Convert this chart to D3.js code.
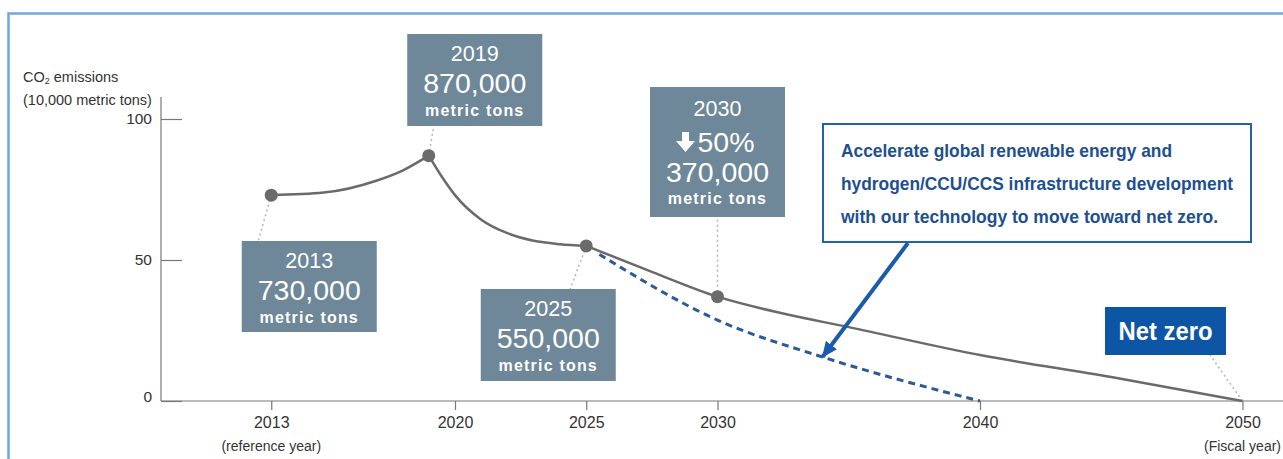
<!DOCTYPE html>
<html>
<head>
<meta charset="utf-8">
<script src="https://cdn.jsdelivr.net/npm/d3@7"></script>
<style>
    body { margin: 0; background: #fff; }
    svg { display: block; font-family: "Liberation Sans", Arial, sans-serif; }
</style>
</head>
<body>
<svg id="chart" width="1283" height="459"></svg>
<script>
// actual / planned emissions (10,000 metric tons)
var years = [2013, 2015, 2017, 2018, 2019, 2019.5, 2020, 2021, 2022, 2023, 2024, 2025, 2027.5, 2030, 2032.5, 2035, 2040, 2045, 2050];
var emissions = [73, 73.9, 78.1, 81.7, 87, 79.5, 73, 64.3, 59.5, 56.8, 55.6, 55, 45.8, 37, 31, 26.2, 16.3, 8.5, 0];
var breakYears = [2013, 2019, 2025, 2050];

// accelerated path (dashed)
var fastYears = [2025.5, 2030, 2034, 2040];
var fastEmissions = [52, 28.7, 15.6, 0];

var markedYears = [2013, 2019, 2025, 2030];
var xTicks = [2013, 2020, 2025, 2030, 2040, 2050];
var yTicks = [0, 50, 100];

var labels = [
    { year: 2013, lines: ["2013", "730,000", "metric tons"] },
    { year: 2019, lines: ["2019", "870,000", "metric tons"] },
    { year: 2025, lines: ["2025", "550,000", "metric tons"] },
    { year: 2030, lines: ["2030", "50%", "370,000", "metric tons"] },
];
var callout = [
    "Accelerate global renewable energy and",
    "hydrogen/CCU/CCS infrastructure development",
    "with our technology to move toward net zero.",
];

var svg = d3.select("#chart");
var x = d3.scaleLinear().domain([2013, 2050]).range([271.25, 1242.5]);
var y = d3.scaleLinear().domain([0, 100]).range([401, 119]);

var data = years.map(function (yr, i) { return { year: yr, value: emissions[i] }; });
var fast = fastYears.map(function (yr, i) { return { year: yr, value: fastEmissions[i] }; });
function valueAt(yr) {
    return data.filter(function (d) { return d.year === yr; })[0].value;
}

// frame
svg.append("rect")
    .attr("x", 8.5).attr("y", 13.5)
    .attr("width", 1400).attr("height", 600)
    .attr("fill", "none")
    .attr("stroke", "#70a7dd")
    .attr("stroke-width", 2.5);

// axes
var yAxis = d3.axisLeft(y).tickValues(yTicks).tickSizeInner(-21).tickSizeOuter(0).tickPadding(9);
var gy = svg.append("g").attr("transform", "translate(161,0)").call(yAxis);
gy.select(".domain").remove();
gy.selectAll(".tick line").attr("stroke", "#777").attr("stroke-width", 1.2);
gy.selectAll(".tick text").attr("font-size", 15.5).attr("fill", "#333").attr("font-family", null);
gy.selectAll(".tick").filter(function (d) { return d === 0; }).select("text").attr("dy", "0.05em");
svg.append("line")
    .attr("x1", 161).attr("x2", 161).attr("y1", 97).attr("y2", y(0))
    .attr("stroke", "#777").attr("stroke-width", 1.2);

var xAxis = d3.axisBottom(x).tickValues(xTicks).tickFormat(d3.format("d")).tickSizeInner(9).tickSizeOuter(0).tickPadding(7);
var gx = svg.append("g").attr("transform", "translate(0," + y(0) + ")").call(xAxis);
gx.select(".domain").remove();
gx.selectAll(".tick line").attr("stroke", "#777").attr("stroke-width", 1.2);
gx.selectAll(".tick text").attr("font-size", 16).attr("fill", "#333").attr("font-family", null);
svg.append("line")
    .attr("x1", 161).attr("x2", 1283).attr("y1", y(0)).attr("y2", y(0))
    .attr("stroke", "#777").attr("stroke-width", 1.2);

svg.append("text").attr("x", x(2013)).attr("y", 451)
    .attr("text-anchor", "middle").attr("font-size", 14).attr("fill", "#333")
    .text("(reference year)");
svg.append("text").attr("x", x(2050)).attr("y", 451)
    .attr("text-anchor", "middle").attr("font-size", 14).attr("fill", "#333")
    .text("(Fiscal year)");

// y axis title
var t1 = svg.append("text").attr("x", 23).attr("y", 82).attr("font-size", 14.5).attr("fill", "#333");
t1.append("tspan").text("CO");
t1.append("tspan").attr("font-size", 9).attr("dy", 2).text("2");
t1.append("tspan").attr("dy", -2).text(" emissions");
svg.append("text").attr("x", 23).attr("y", 105).attr("font-size", 14.5).attr("fill", "#333")
    .text("(10,000 metric tons)");

// leader lines (dotted)
var leaders = [
    { year: 2013, x2: x(2013) - 13, y2: 241 },
    { year: 2019, x2: x(2019) + 5, y2: 126 },
    { year: 2025, x2: x(2025) - 16, y2: 289 },
    { year: 2030, x2: x(2030), y2: 217 },
    { year: 2050, x2: 1210, y2: 355 },
];
svg.selectAll(".leader").data(leaders).enter().append("line")
    .attr("class", "leader")
    .attr("x1", function (d) { return x(d.year); })
    .attr("y1", function (d) { return y(valueAt(d.year)); })
    .attr("x2", function (d) { return d.x2; })
    .attr("y2", function (d) { return d.y2; })
    .attr("stroke", "#b5b5b5").attr("stroke-width", 1.5).attr("stroke-dasharray", "2,3");

// dashed accelerated path
var line = d3.line()
    .x(function (d) { return x(d.year); })
    .y(function (d) { return y(d.value); })
    .curve(d3.curveMonotoneX);

svg.append("path").datum(fast)
    .attr("d", line)
    .attr("fill", "none")
    .attr("stroke", "#2b5b97").attr("stroke-width", 3)
    .attr("stroke-dasharray", "7,5");

// main path, split where the trend turns
for (var i = 0; i < breakYears.length - 1; i++) {
    var a = breakYears[i], b = breakYears[i + 1];
    svg.append("path")
        .datum(data.filter(function (d) { return d.year >= a && d.year <= b; }))
        .attr("d", line)
        .attr("fill", "none")
        .attr("stroke", "#6a6a6a").attr("stroke-width", 2.5);
}

svg.selectAll(".dot").data(markedYears).enter().append("circle")
    .attr("class", "dot")
    .attr("cx", function (d) { return x(d); })
    .attr("cy", function (d) { return y(valueAt(d)); })
    .attr("r", 6.5)
    .attr("fill", "#6b6b6b");

// value boxes
var boxLayout = {
    2013: { dx: 38, top: 241, h: 91 },
    2019: { dx: 46, top: 34, h: 92 },
    2025: { dx: -38, top: 289, h: 92 },
    2030: { dx: 0, top: 87, h: 130 },
};
var boxW = 135;

labels.forEach(function (lb) {
    var lay = boxLayout[lb.year];
    var cx = x(lb.year) + lay.dx;
    var g = svg.append("g");
    g.append("rect")
        .attr("x", cx - boxW / 2).attr("y", lay.top)
        .attr("width", boxW).attr("height", lay.h)
        .attr("fill", "#6e8799");

    var offs, sizes;
    if (lb.lines.length === 3) {
        offs = [19, 49, 76];
        sizes = [21.5, 28.5, 16];
    } else {
        offs = [21, 55, 85, 111];
        sizes = [21.5, 28.5, 28.5, 16];
    }
    lb.lines.forEach(function (txt, j) {
        var bold = j === lb.lines.length - 1;
        var tx = g.append("text")
            .attr("x", cx)
            .attr("y", lay.top + offs[j] + 0.36 * sizes[j])
            .attr("text-anchor", "middle")
            .attr("font-size", sizes[j])
            .attr("font-weight", bold ? "bold" : "normal")
            .attr("letter-spacing", bold ? 1.2 : 0)
            .attr("fill", "#fff")
            .text(txt);
        if (txt === "50%") {
            tx.attr("x", cx - 20).attr("text-anchor", "start");
            // down arrow in front of the percentage
            var ax = cx - 32, ay = lay.top + offs[j];
            g.append("path")
                .attr("d", "M" + (ax - 3.5) + "," + (ay - 10) + "h7v9h6l-9.5,11l-9.5,-11h6z")
                .attr("fill", "#fff");
        }
    });
});

// net zero box
var nz = svg.append("g");
nz.append("rect").attr("x", 1105).attr("y", 307).attr("width", 121).attr("height", 48).attr("fill", "#0d56a6");
nz.append("text").attr("x", 1165.5).attr("y", 331 + 0.36 * 25)
    .attr("text-anchor", "middle").attr("font-size", 25).attr("font-weight", "bold")
    .attr("fill", "#fff").attr("textLength", 94).attr("lengthAdjust", "spacingAndGlyphs")
    .text("Net zero");

// callout
svg.append("rect")
    .attr("x", 823).attr("y", 124).attr("width", 428).attr("height", 118)
    .attr("fill", "#fff").attr("stroke", "#2161ad").attr("stroke-width", 2);
var calloutWidths = [331, 392, 377];
svg.selectAll(".callout").data(callout).enter().append("text")
    .attr("class", "callout")
    .attr("x", 841)
    .attr("y", function (d, i) { return 157 + i * 33; })
    .attr("font-size", 18.5).attr("font-weight", "bold")
    .attr("fill", "#1d4f91")
    .attr("textLength", function (d, i) { return calloutWidths[i]; })
    .attr("lengthAdjust", "spacingAndGlyphs")
    .text(function (d) { return d; });

// arrow to the dashed path
svg.append("defs").append("marker")
    .attr("id", "head")
    .attr("markerUnits", "userSpaceOnUse")
    .attr("viewBox", "0 0 16 14")
    .attr("markerWidth", 16).attr("markerHeight", 14)
    .attr("refX", 15).attr("refY", 7)
    .attr("orient", "auto")
    .append("path").attr("d", "M0,0L16,7L0,14z").attr("fill", "#1a5cab");

var tip = fast[2];
svg.append("line")
    .attr("x1", 908).attr("y1", 243)
    .attr("x2", x(tip.year)).attr("y2", y(tip.value))
    .attr("stroke", "#1a5cab").attr("stroke-width", 4)
    .attr("marker-end", "url(#head)");
</script>
</body>
</html>
